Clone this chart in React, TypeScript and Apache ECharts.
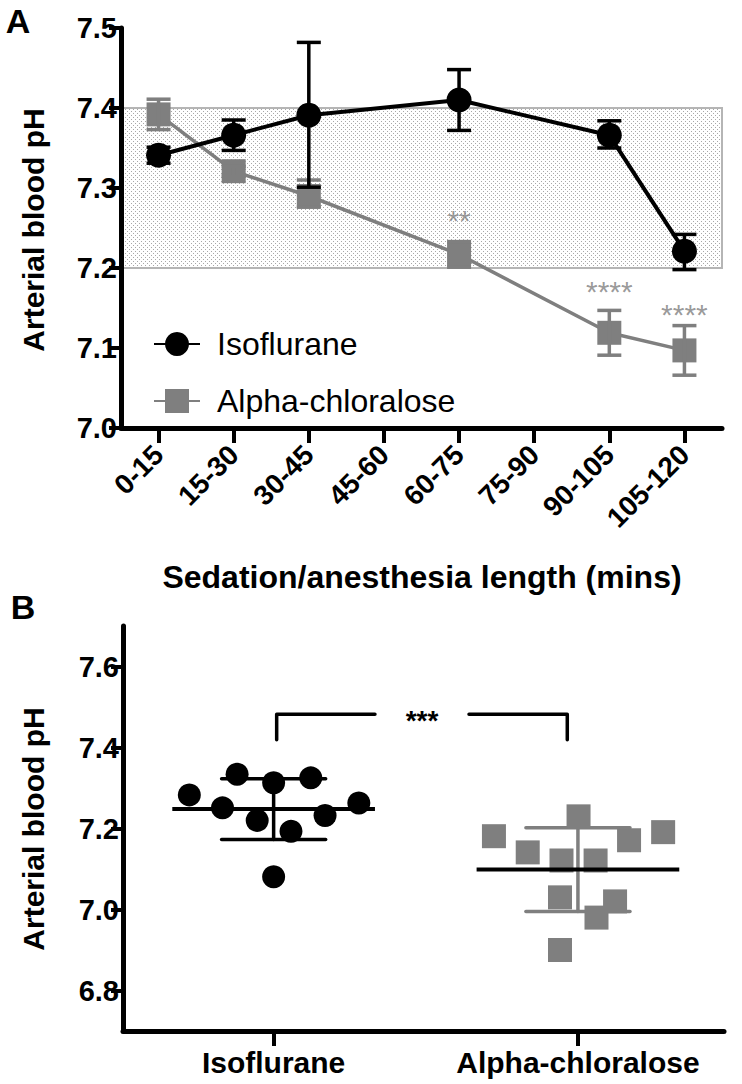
import React, { useEffect, useRef } from 'react';
import * as echarts from 'echarts';

// ---------- Panel A data ----------
const timeBins = ['0-15', '15-30', '30-45', '45-60', '60-75', '75-90', '90-105', '105-120'];
const isoMean = [7.341, 7.366, 7.391, null, 7.410, null, 7.366, 7.221];
const isoUpper = [7.351, 7.385, 7.482, null, 7.448, null, 7.384, 7.242];
const isoLower = [7.331, 7.347, 7.301, null, 7.372, null, 7.350, 7.198];
const alphaMean = [7.392, 7.321, 7.290, null, 7.217, null, 7.119, 7.097];
const alphaUpper = [7.411, 7.327, 7.310, null, 7.233, null, 7.147, 7.128];
const alphaLower = [7.373, 7.315, 7.276, null, 7.201, null, 7.091, 7.066];
const sigStars = ['', '', '', '', '**', '', '****', '****'];
const sigLevel = [null, null, null, null, 7.259, null, 7.171, 7.142];
const normalRange = [7.2, 7.4];

// ---------- Panel B data ----------
const groups = ['Isoflurane', 'Alpha-chloralose'];
const isoPH = [7.283, 7.334, 7.251, 7.313, 7.325, 7.220, 7.193, 7.232, 7.263, 7.081];
const isoJitter = [-0.277, -0.120, -0.168, 0.0, 0.122, -0.054, 0.057, 0.169, 0.280, 0.0];
const alphaPH = [7.181, 7.141, 7.230, 7.121, 7.121, 7.171, 7.191, 7.030, 7.020, 6.980, 6.900];
const alphaJitter = [-0.276, -0.165, 0.002, -0.054, 0.058, 0.168, 0.280, -0.059, 0.122, 0.061, -0.059];
const groupMean = [7.248, 7.099];
const groupSdLow = [7.173, 6.995];
const groupSdHigh = [7.323, 7.202];
const yTicksB = [6.8, 7.0, 7.2, 7.4, 7.6];
const bracketX = [1.01, 1.333, 1.642, 1.965];
const bracketY = [7.419, 7.482];
const bracketLabel = '***';

const BLACK = '#000000';
const GRAY = '#7f7f7f';
const FONT = '"Liberation Sans", Arial, Helvetica, sans-serif';

function makeDotPattern() {
  const c = document.createElement('canvas');
  c.width = 4;
  c.height = 4;
  const ctx = c.getContext('2d');
  if (ctx) {
    ctx.fillStyle = '#ffffff';
    ctx.fillRect(0, 0, 4, 4);
    ctx.fillStyle = '#a8a8a8';
    ctx.fillRect(1, 1, 1, 1);
    ctx.fillRect(3, 3, 1, 1);
  }
  return c;
}

function errorBarSeries(name: string, lower: (number | null)[], upper: (number | null)[], color: string, z: number) {
  const data: number[][] = [];
  lower.forEach((lo, i) => {
    if (lo != null && upper[i] != null) data.push([i, lo, upper[i] as number]);
  });
  return {
    type: 'custom',
    name,
    xAxisIndex: 0,
    yAxisIndex: 0,
    z,
    data,
    encode: { x: 0, y: [1, 2] },
    renderItem: (params: any, api: any) => {
      const x = api.value(0);
      const lo = api.coord([x, api.value(1)]);
      const hi = api.coord([x, api.value(2)]);
      const hw = 12;
      const st = { stroke: color, lineWidth: 3.5 };
      return {
        type: 'group',
        children: [
          { type: 'line', shape: { x1: hi[0], y1: hi[1], x2: lo[0], y2: lo[1] }, style: st },
          { type: 'line', shape: { x1: hi[0] - hw, y1: hi[1], x2: hi[0] + hw, y2: hi[1] }, style: st },
          { type: 'line', shape: { x1: lo[0] - hw, y1: lo[1], x2: lo[0] + hw, y2: lo[1] }, style: st },
        ],
      };
    },
  };
}

export default function App() {
  const ref = useRef<HTMLDivElement>(null);

  useEffect(() => {
    if (!ref.current) return;
    const chart = echarts.init(ref.current, undefined, { renderer: 'svg' });
    const pattern = makeDotPattern();

    const axisLineStyle = { show: true, lineStyle: { color: BLACK, width: 5 } };

    const option: any = {
      animation: false,
      backgroundColor: '#ffffff',
      textStyle: { fontFamily: FONT },
      grid: [
        { left: 121, top: 28, width: 601, height: 400 },
        { left: 123, top: 626, width: 601, height: 405 },
      ],
      xAxis: [
        {
          type: 'category',
          gridIndex: 0,
          data: timeBins,
          boundaryGap: true,
          axisLine: axisLineStyle,
          axisTick: { show: true, alignWithLabel: true, length: 15, lineStyle: { color: BLACK, width: 4 } },
          axisLabel: { rotate: 45, fontSize: 28, fontWeight: 'bold', color: BLACK, margin: 22, fontFamily: FONT, interval: 0 },
          splitLine: { show: false },
        },
        {
          type: 'value',
          gridIndex: 1,
          min: 0.505,
          max: 2.48,
          axisLine: axisLineStyle,
          axisTick: { show: true, length: 15, customValues: [1, 2], lineStyle: { color: BLACK, width: 4 } },
          axisLabel: {
            customValues: [1, 2],
            formatter: (v: number) => groups[Math.round(v) - 1] || '',
            fontSize: 30,
            fontWeight: 'bold',
            color: BLACK,
            margin: 16,
            fontFamily: FONT,
          },
          splitLine: { show: false },
        },
      ],
      yAxis: [
        {
          type: 'value',
          gridIndex: 0,
          min: 7.0,
          max: 7.5,
          interval: 0.1,
          axisLine: axisLineStyle,
          axisTick: { show: true, length: 12, lineStyle: { color: BLACK, width: 4 } },
          axisLabel: { formatter: (v: number) => v.toFixed(1), fontSize: 29, fontWeight: 'bold', color: BLACK, margin: 4, fontFamily: FONT },
          splitLine: { show: false },
        },
        {
          type: 'value',
          gridIndex: 1,
          min: 6.7,
          max: 7.7,
          axisLine: axisLineStyle,
          axisTick: { show: true, length: 12, customValues: yTicksB, lineStyle: { color: BLACK, width: 4 } },
          axisLabel: {
            customValues: yTicksB,
            formatter: (v: number) => v.toFixed(1),
            fontSize: 29,
            fontWeight: 'bold',
            color: BLACK,
            margin: 4,
            fontFamily: FONT,
          },
          splitLine: { show: false },
        },
      ],
      legend: {
        data: ['Isoflurane', 'Alpha-chloralose'],
        orient: 'vertical',
        left: 148,
        top: 323,
        itemWidth: 46,
        itemHeight: 30,
        itemGap: 25,
        selectedMode: false,
        textStyle: { fontSize: 32, color: BLACK, fontFamily: FONT, padding: [0, 0, 0, 12] },
      },
      graphic: [
        { type: 'text', x: 18, y: 21, style: { text: 'A', font: `bold 34px ${FONT}`, fill: BLACK, textAlign: 'center', textVerticalAlign: 'middle' } },
        { type: 'text', x: 23, y: 607, style: { text: 'B', font: `bold 34px ${FONT}`, fill: BLACK, textAlign: 'center', textVerticalAlign: 'middle' } },
        { type: 'text', x: 33, y: 230, rotation: Math.PI / 2, style: { text: 'Arterial blood pH', font: `bold 30px ${FONT}`, fill: BLACK, textAlign: 'center', textVerticalAlign: 'middle' } },
        { type: 'text', x: 33, y: 829, rotation: Math.PI / 2, style: { text: 'Arterial blood pH', font: `bold 30px ${FONT}`, fill: BLACK, textAlign: 'center', textVerticalAlign: 'middle' } },
        { type: 'text', x: 422, y: 577, style: { text: 'Sedation/anesthesia length (mins)', font: `bold 32px ${FONT}`, fill: BLACK, textAlign: 'center', textVerticalAlign: 'middle' } },
      ],
      series: [
        {
          type: 'line',
          name: 'Alpha-chloralose',
          xAxisIndex: 0,
          yAxisIndex: 0,
          z: 2,
          data: alphaMean,
          connectNulls: true,
          symbol: 'rect',
          symbolSize: 24,
          itemStyle: { color: GRAY },
          lineStyle: { color: GRAY, width: 3.5 },
          markArea: {
            silent: true,
            z: 0,
            itemStyle: { color: { image: pattern, repeat: 'repeat' }, borderColor: '#b5b5b5', borderWidth: 2 },
            data: [[{ yAxis: normalRange[0] }, { yAxis: normalRange[1] }]],
          },
        },
        errorBarSeries('alphaErr', alphaLower, alphaUpper, GRAY, 3),
        {
          type: 'line',
          name: 'Isoflurane',
          xAxisIndex: 0,
          yAxisIndex: 0,
          z: 4,
          data: isoMean,
          connectNulls: true,
          symbol: 'circle',
          symbolSize: 25,
          itemStyle: { color: BLACK },
          lineStyle: { color: BLACK, width: 4 },
        },
        errorBarSeries('isoErr', isoLower, isoUpper, BLACK, 5),
        {
          type: 'scatter',
          name: 'significance',
          xAxisIndex: 0,
          yAxisIndex: 0,
          z: 6,
          symbolSize: 0,
          data: sigLevel.map((v, i) => (v == null ? null : { value: [i, v], stars: sigStars[i] })).filter(Boolean),
          label: {
            show: true,
            position: 'inside',
            formatter: (p: any) => p.data.stars,
            fontSize: 30,
            color: GRAY,
            fontFamily: FONT,
          },
        },
        // Panel B
        {
          type: 'scatter',
          name: 'Isoflurane pH',
          xAxisIndex: 1,
          yAxisIndex: 1,
          z: 2,
          symbol: 'circle',
          symbolSize: 23,
          itemStyle: { color: BLACK, opacity: 1 },
          data: isoPH.map((v, i) => [1 + isoJitter[i], v]),
        },
        {
          type: 'scatter',
          name: 'Alpha-chloralose pH',
          xAxisIndex: 1,
          yAxisIndex: 1,
          z: 2,
          symbol: 'rect',
          symbolSize: 24,
          itemStyle: { color: GRAY, opacity: 1 },
          data: alphaPH.map((v, i) => [2 + alphaJitter[i], v]),
        },
        {
          type: 'custom',
          name: 'meanSd',
          xAxisIndex: 1,
          yAxisIndex: 1,
          z: 3,
          data: groupMean.map((m, i) => [i + 1, m, groupSdLow[i], groupSdHigh[i], i]),
          encode: { x: 0, y: [1, 2, 3] },
          renderItem: (params: any, api: any) => {
            const x = api.value(0);
            const idx = api.value(4);
            const sdColor = idx === 0 ? BLACK : GRAY;
            const m0 = api.coord([x - 0.333, api.value(1)]);
            const m1 = api.coord([x + 0.333, api.value(1)]);
            const lo0 = api.coord([x - 0.171, api.value(2)]);
            const lo1 = api.coord([x + 0.171, api.value(2)]);
            const hi0 = api.coord([x - 0.171, api.value(3)]);
            const hi1 = api.coord([x + 0.171, api.value(3)]);
            const c = api.coord([x, api.value(1)]);
            const sd = { stroke: sdColor, lineWidth: 3.5, lineCap: 'round' };
            return {
              type: 'group',
              children: [
                { type: 'line', shape: { x1: c[0], y1: hi0[1], x2: c[0], y2: lo0[1] }, style: sd },
                { type: 'line', shape: { x1: hi0[0], y1: hi0[1], x2: hi1[0], y2: hi1[1] }, style: sd },
                { type: 'line', shape: { x1: lo0[0], y1: lo0[1], x2: lo1[0], y2: lo1[1] }, style: sd },
                { type: 'line', shape: { x1: m0[0], y1: m0[1], x2: m1[0], y2: m1[1] }, style: { stroke: BLACK, lineWidth: 4 } },
              ],
            };
          },
        },
        {
          type: 'custom',
          name: 'bracket',
          xAxisIndex: 1,
          yAxisIndex: 1,
          z: 3,
          data: [[bracketX[0], bracketX[1], bracketX[2], bracketX[3], bracketY[0], bracketY[1]]],
          encode: { x: [0, 1, 2, 3], y: [4, 5] },
          renderItem: (params: any, api: any) => {
            const lowY = api.value(4);
            const highY = api.value(5);
            const a = api.coord([api.value(0), lowY]);
            const b = api.coord([api.value(0), highY]);
            const c = api.coord([api.value(1), highY]);
            const d = api.coord([api.value(2), highY]);
            const e = api.coord([api.value(3), highY]);
            const f = api.coord([api.value(3), lowY]);
            const st = { stroke: BLACK, lineWidth: 3.5, fill: null, lineJoin: 'round', lineCap: 'round' };
            return {
              type: 'group',
              children: [
                { type: 'polyline', shape: { points: [a, b, c] }, style: st },
                { type: 'polyline', shape: { points: [d, e, f] }, style: st },
                {
                  type: 'text',
                  x: (c[0] + d[0]) / 2,
                  y: c[1] + 6,
                  style: { text: bracketLabel, font: `bold 28px ${FONT}`, fill: BLACK, textAlign: 'center', textVerticalAlign: 'middle' },
                },
              ],
            };
          },
        },
      ],
    };

    chart.setOption(option);
    return () => chart.dispose();
  }, []);

  return <div ref={ref} style={{ position: 'absolute', left: 0, top: 0, width: 742, height: 1084 }} />;
}
